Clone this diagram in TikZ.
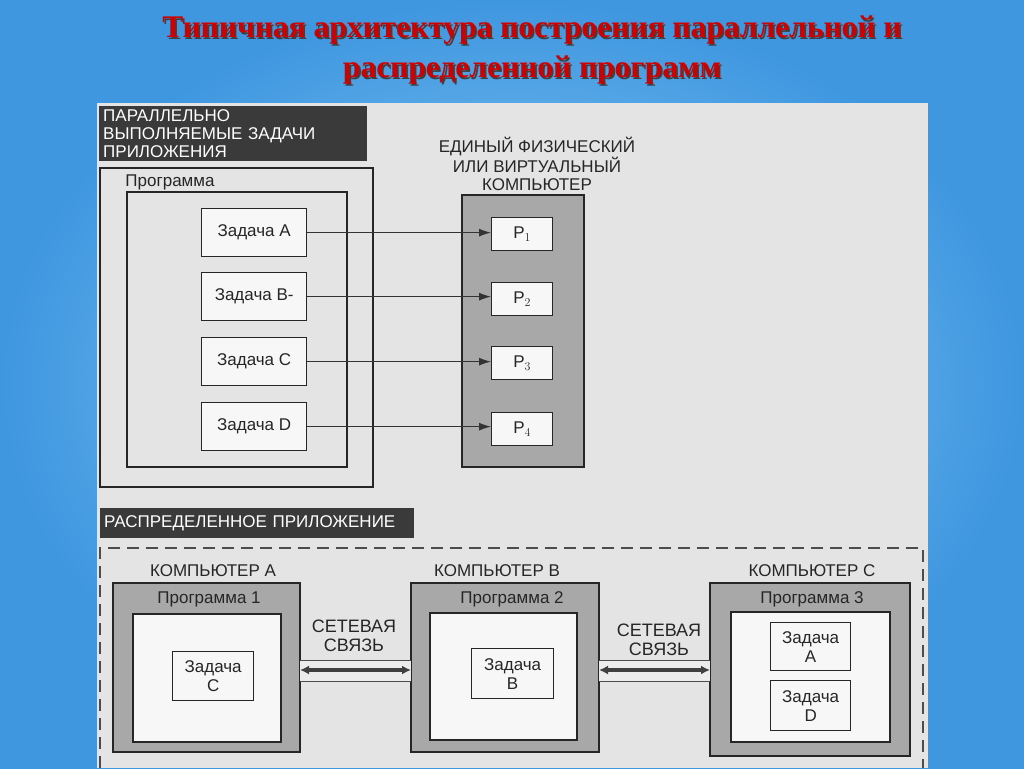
\documentclass[tikz,border=0pt]{standalone}
\usepackage{fontspec}
\setmainfont{Liberation Sans}
\newfontfamily\titlefont{Liberation Serif}
\usetikzlibrary{arrows.meta}
\definecolor{bgblue}{HTML}{3F97E0}
\definecolor{bglight}{HTML}{8FD0F5}
\definecolor{page}{HTML}{E4E4E4}
\definecolor{dark}{HTML}{3A3A3A}
\definecolor{grayfill}{HTML}{A8A8A8}
\definecolor{titlered}{HTML}{D00000}
\tikzset{
  box/.style={draw=black!85, line width=1.3pt, fill=page},
  wbox/.style={draw=black!85, line width=1.3pt, fill=white!94!gray},
  gbox/.style={draw=black!85, line width=1.3pt, fill=grayfill},
  hdr/.style={fill=dark, text=white, font=\fontsize{17}{18}\selectfont, align=left, inner sep=4pt},
  lbl/.style={font=\fontsize{17}{19}\selectfont, text=black!85, align=center, inner sep=1pt},
  conn/.style={line width=1.1pt, black!80, -{Latex[length=12pt,width=8pt]}},
  net/.style={line width=3.5pt, black!75, {Latex[length=9pt,width=9pt]}-{Latex[length=9pt,width=9pt]}},
  ttl/.style={font=\titlefont\bfseries\fontsize{31.5}{36}\selectfont}
}
\begin{document}
\begin{tikzpicture}[x=1pt,y=-1pt]
\useasboundingbox (0,0) rectangle (1024,768);
\shade[inner color=bglight, outer color=bgblue] (0,0) rectangle (1024,768);
% title
\foreach \dy/\c in {1.8/black!75, 0/titlered}{
\node[ttl, text=\c] at (532+\dy,30+\dy) {Типичная архитектура построения параллельной и};
\node[ttl, text=\c] at (532+\dy,70+\dy) {распределенной программ};
}
% page
\fill[page] (97,103) rectangle (928,768);
% top part
\node[hdr, anchor=north west, minimum width=268pt, minimum height=55pt, text width=260pt, inner ysep=2pt] (h1) at (99,106) {ПАРАЛЛЕЛЬНО\\ВЫПОЛНЯЕМЫЕ ЗАДАЧИ\\ПРИЛОЖЕНИЯ};
\draw[box] (100,168) rectangle (373,487);
\node[lbl] (prog) at (170,182) {Программа};
\draw[box] (127,192) rectangle (347,467);
\foreach \n/\t/\y in {a/A/208,b/B-/272,c/C/337,d/D/402}{
  \node[wbox, lbl, anchor=north west, minimum width=105pt, minimum height=48pt] (t\n) at (201,\y) {Задача \t};
}
\node[lbl, font=\fontsize{17}{18}\selectfont] (comp) at (537,164) {ЕДИНЫЙ ФИЗИЧЕСКИЙ\\ИЛИ ВИРТУАЛЬНЫЙ\\КОМПЬЮТЕР};
\draw[gbox] (462,195) rectangle (584,467);
\foreach \n/\i/\y in {a/1/217,b/2/282,c/3/346,d/4/412}{
  \node[wbox, lbl, anchor=north west, minimum width=61pt, minimum height=33pt] (p\n) at (491,\y) {P$_{\i}$};
  \draw[conn] (t\n.east) -- (t\n.east -| p\n.west);
}
% bottom part
\node[hdr, anchor=north west, minimum width=314pt, minimum height=30pt, text width=306pt] (h2) at (100,508) {РАСПРЕДЕЛЕННОЕ ПРИЛОЖЕНИЕ};
\draw[black!70, line width=1.2pt, dash pattern=on 12pt off 7pt] (100,768) -- (100,548) -- (923,548) -- (923,768);
% computer A
\node[lbl] (ca) at (213,571) {КОМПЬЮТЕР А};
\draw[gbox] (113,583) rectangle (300,752);
\node[lbl] (p1) at (209,599) {Программа 1};
\draw[wbox] (133,614) rectangle (281,742);
\node[wbox, lbl, anchor=north west, minimum width=81pt, minimum height=49pt] (tc) at (172,651) {Задача\\C};
% computer B
\node[lbl] (cb) at (497,571) {КОМПЬЮТЕР В};
\draw[gbox] (411,583) rectangle (599,752);
\node[lbl] (p2) at (512,599) {Программа 2};
\draw[wbox] (430,613) rectangle (577,740);
\node[wbox, lbl, anchor=north west, minimum width=82pt, minimum height=50pt] (tb) at (471,648) {Задача\\В};
% computer C
\node[lbl] (cc) at (812,571) {КОМПЬЮТЕР С};
\draw[gbox] (710,583) rectangle (910,756);
\node[lbl] (p3) at (812,599) {Программа 3};
\draw[wbox] (731,612) rectangle (890,742);
\node[wbox, lbl, anchor=north west, minimum width=80pt, minimum height=48pt] (ta) at (770,622) {Задача\\А};
\node[wbox, lbl, anchor=north west, minimum width=80pt, minimum height=50pt] (td) at (770,680) {Задача\\D};
% network links
\coordinate (n1a) at (300,670); \coordinate (n1b) at (411,670);
\coordinate (n2a) at (599,670); \coordinate (n2b) at (710,670);
\fill[white!85!gray] (300,660) rectangle (411,681);
\fill[white!85!gray] (599,660) rectangle (710,681);
\draw[black!70, line width=1pt] (300,660) -- (411,660) (300,681) -- (411,681);
\draw[black!70, line width=1pt] (599,660) -- (710,660) (599,681) -- (710,681);
\draw[net] (n1a) -- (n1b);
\draw[net] (n2a) -- (n2b);
\node[lbl, font=\fontsize{18}{19}\selectfont] (s1) at (354,636) {СЕТЕВАЯ\\СВЯЗЬ};
\node[lbl, font=\fontsize{18}{19}\selectfont] (s2) at (659,640) {СЕТЕВАЯ\\СВЯЗЬ};
\end{tikzpicture}
\end{document}
